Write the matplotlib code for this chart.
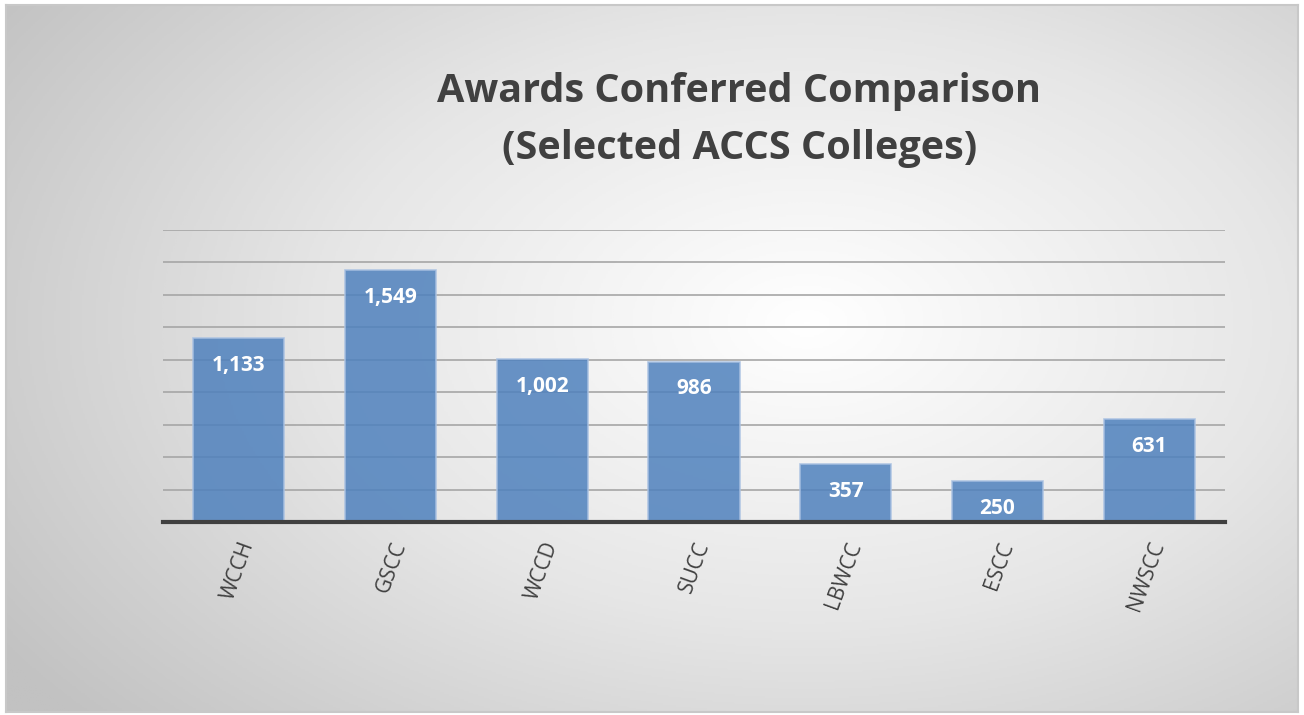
import numpy as np
import matplotlib.pyplot as plt
from matplotlib.colors import LinearSegmentedColormap

# data
colleges = ['WCCH', 'GSCC', 'WCCD', 'SUCC', 'LBWCC', 'ESCC', 'NWSCC']
awards = [1133, 1549, 1002, 986, 357, 250, 631]
title = 'Awards Conferred Comparison\n(Selected ACCS Colleges)'

fig = plt.figure(figsize=(13.04, 7.15), dpi=100)
fig.patch.set_facecolor('white')

# radial gradient background inside a thin frame
bg = fig.add_axes([6 / 1304, 3 / 715, 1292 / 1304, 707 / 715])
yy, xx = np.mgrid[0:1:400j, 0:1:700j]
r = np.sqrt(((xx - 0.62) / 0.75) ** 2 + ((yy - 0.45) / 0.85) ** 2)
cmap = LinearSegmentedColormap.from_list('bg', ['#ffffff', '#e6e6e6', '#c2c2c2'])
bg.imshow(np.clip(r, 0, 1), cmap=cmap, vmin=0, vmax=1, aspect='auto',
          extent=[0, 1, 0, 1], origin='upper')
bg.set_xticks([])
bg.set_yticks([])
for s in bg.spines.values():
    s.set_color('#c8c8c8')
    s.set_linewidth(1.5)

ax = fig.add_axes([163 / 1304, (715 - 522) / 715, (1225 - 163) / 1304, (522 - 229.5) / 715])
ax.patch.set_alpha(0)
x = np.arange(len(colleges))
bars = ax.bar(x, awards, width=0.6, color='#4f81bd', alpha=0.85,
              edgecolor='#a9c1e2', linewidth=1.2, zorder=3)
ax.set_xlim(-0.5, len(colleges) - 0.5)
ax.set_ylim(0, 1800)
ax.set_yticks(np.arange(200, 1801, 200))
ax.yaxis.grid(True, color='#a6a6a6', linewidth=1.2, zorder=1)
ax.tick_params(axis='y', left=False, labelleft=False)
ax.tick_params(axis='x', length=0, pad=12)
for side in ['top', 'right', 'left']:
    ax.spines[side].set_visible(False)
ax.spines['bottom'].set_color('#404040')
ax.spines['bottom'].set_linewidth(3)
ax.spines['bottom'].set_zorder(5)
ax.set_xticks(x)
ax.set_xticklabels(colleges, rotation=70, ha='right', va='top',
                   rotation_mode='anchor', fontsize=15, color='#404040',
                   family='Open Sans')

for b, v in zip(bars, awards):
    ax.annotate(f'{v:,}', xy=(b.get_x() + b.get_width() / 2, v), xytext=(0, -12),
                textcoords='offset points', ha='center', va='top', color='white',
                fontsize=15, fontweight='bold', family='Open Sans', zorder=6)

fig.text(0.567, 0.832, title, ha='center', va='center', fontsize=28.5,
         fontweight='bold', color='#404040', family='Open Sans', linespacing=1.6)

plt.savefig('out.png', dpi=100)
